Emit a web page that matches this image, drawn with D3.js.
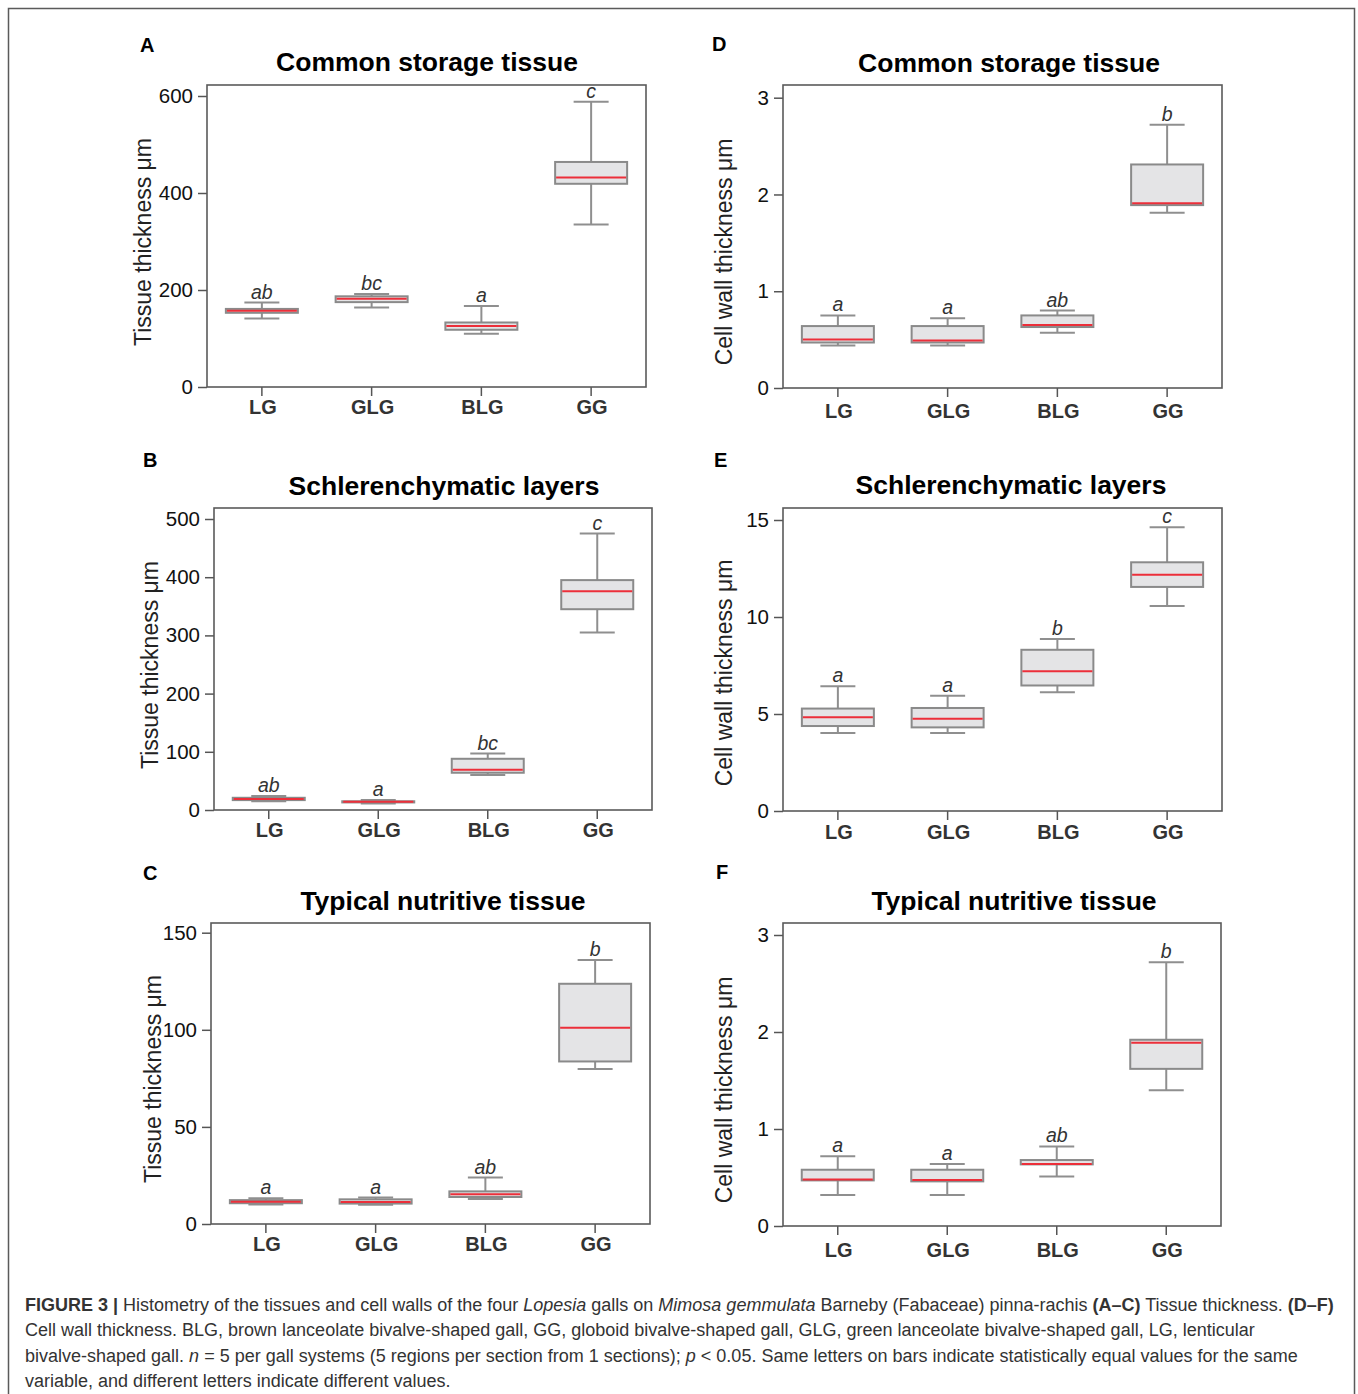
<!DOCTYPE html>
<html><head><meta charset="utf-8">
<script src="https://cdn.jsdelivr.net/npm/d3@7"></script>
<style>
body{margin:0;background:#fff}
svg{display:block;font-family:"Liberation Sans",Arial,Helvetica,sans-serif}
</style>
</head><body>
<svg id="fig" width="1358" height="1394"></svg>
<script>
// ---------------- data ----------------
const categories = ["LG", "GLG", "BLG", "GG"];
const panelIds = ["A", "B", "C", "D", "E", "F"];
const panelTitles = ["Common storage tissue", "Schlerenchymatic layers", "Typical nutritive tissue",
                     "Common storage tissue", "Schlerenchymatic layers", "Typical nutritive tissue"];
const yAxisLabels = ["Tissue thickness μm", "Tissue thickness μm", "Tissue thickness μm",
                     "Cell wall thickness μm", "Cell wall thickness μm", "Cell wall thickness μm"];
const yTicksA = [0, 200, 400, 600];
const yTicksB = [0, 100, 200, 300, 400, 500];
const yTicksC = [0, 50, 100, 150];
const yTicksD = [0, 1, 2, 3];
const yTicksE = [0, 5, 10, 15];
const yTicksF = [0, 1, 2, 3];
// five-number summaries per category: [min, q1, median, q3, max]
const statsA = [[141, 153, 157, 161, 174], [164, 175, 182, 187, 192], [110, 118, 126, 133, 167], [335, 419, 432, 464, 588]];
const statsB = [[15, 17, 19, 21, 24], [11, 13, 14, 15, 17], [60, 64, 69, 88, 97], [305, 345, 376, 395, 475]];
const statsC = [[10.1, 10.7, 11.5, 12.3, 13.2], [9.9, 10.5, 11.3, 12.7, 13.6], [12.9, 13.9, 15.3, 16.8, 23.9], [79.8, 83.7, 101.1, 123.7, 135.9]];
const statsD = [[0.44, 0.47, 0.50, 0.64, 0.75], [0.44, 0.47, 0.49, 0.64, 0.72], [0.57, 0.63, 0.65, 0.75, 0.80], [1.81, 1.89, 1.91, 2.31, 2.72]];
const statsE = [[4.02, 4.38, 4.83, 5.28, 6.43], [4.02, 4.31, 4.76, 5.31, 5.94], [6.12, 6.47, 7.20, 8.31, 8.87], [10.57, 11.55, 12.18, 12.82, 14.62]];
const statsF = [[0.32, 0.47, 0.48, 0.58, 0.72], [0.32, 0.46, 0.475, 0.58, 0.64], [0.51, 0.635, 0.64, 0.68, 0.82], [1.40, 1.62, 1.89, 1.92, 2.72]];
const lettersA = ["ab", "bc", "a", "c"];
const lettersB = ["ab", "a", "bc", "c"];
const lettersC = ["a", "a", "ab", "b"];
const lettersD = ["a", "a", "ab", "b"];
const lettersE = ["a", "a", "b", "c"];
const lettersF = ["a", "a", "ab", "b"];

// ---------------- layout ----------------
const layout = [
  {ticks: yTicksA, stats: statsA, letters: lettersA, left: 207, right: 646, top: 85, bottom: 387, yMaxPos: 96,
   tagX: 140, tagY: 52, titleX: 427, titleY: 71, ylabX: 151, ylabY: 242, xlabOff: 27},
  {ticks: yTicksB, stats: statsB, letters: lettersB, left: 214, right: 652, top: 508, bottom: 810, yMaxPos: 519,
   tagX: 143, tagY: 467, titleX: 444, titleY: 495, ylabX: 158, ylabY: 665, xlabOff: 27},
  {ticks: yTicksC, stats: statsC, letters: lettersC, left: 211, right: 650, top: 923, bottom: 1224, yMaxPos: 932.7,
   tagX: 143, tagY: 880, titleX: 443, titleY: 910, ylabX: 161, ylabY: 1079, xlabOff: 27},
  {ticks: yTicksD, stats: statsD, letters: lettersD, left: 783, right: 1222, top: 85, bottom: 388, yMaxPos: 97.7,
   tagX: 712, tagY: 51, titleX: 1009, titleY: 72, ylabX: 732, ylabY: 252, xlabOff: 30},
  {ticks: yTicksE, stats: statsE, letters: lettersE, left: 783, right: 1222, top: 508, bottom: 811, yMaxPos: 520,
   tagX: 714, tagY: 467, titleX: 1011, titleY: 494, ylabX: 732, ylabY: 673, xlabOff: 28},
  {ticks: yTicksF, stats: statsF, letters: lettersF, left: 783, right: 1221, top: 923, bottom: 1226, yMaxPos: 935,
   tagX: 716, tagY: 879, titleX: 1014, titleY: 910, ylabX: 732, ylabY: 1090, xlabOff: 31}
];

const svg = d3.select("#fig");
svg.append("rect").attr("width", 1358).attr("height", 1394).attr("fill", "#fff");
// outer figure frame
svg.append("path").attr("d", "M8.5,1400 V8.5 H1354.5 V1400")
  .attr("fill", "none").attr("stroke", "#5a5a5a").attr("stroke-width", 1.5);

const BOX_W = 72, CAP_W = 35;

layout.forEach((cfg, i) => {
  const g = svg.append("g");
  const x = d3.scaleBand().domain(categories).range([cfg.left, cfg.right]);
  const y = d3.scaleLinear().domain([0, d3.max(cfg.ticks)]).range([cfg.bottom, cfg.yMaxPos]);
  const cx = c => x(c) + x.bandwidth() / 2;

  // panel tag
  g.append("text").attr("x", cfg.tagX).attr("y", cfg.tagY)
    .attr("font-size", 20).attr("font-weight", "bold").attr("fill", "#000").text(panelIds[i]);
  // title
  g.append("text").attr("x", cfg.titleX).attr("y", cfg.titleY).attr("text-anchor", "middle")
    .attr("font-size", 26.5).attr("font-weight", "bold").attr("fill", "#000").text(panelTitles[i]);
  // y label
  g.append("text").attr("transform", `translate(${cfg.ylabX},${cfg.ylabY}) rotate(-90)`)
    .attr("text-anchor", "middle").attr("font-size", 23).attr("fill", "#222").text(yAxisLabels[i]);

  // y axis
  const ya = g.append("g").attr("transform", `translate(${cfg.left},0)`)
    .call(d3.axisLeft(y).tickValues(cfg.ticks).tickSize(9).tickPadding(5).tickFormat(d3.format("d")));
  ya.select(".domain").remove();
  ya.selectAll(".tick line").attr("stroke", "#555").attr("stroke-width", 1.5);
  ya.selectAll(".tick text").attr("font-size", 20.5).attr("fill", "#111").attr("font-family", null);

  // x axis
  const xa = g.append("g").attr("transform", `translate(0,${cfg.bottom})`)
    .call(d3.axisBottom(x).tickSize(9));
  xa.select(".domain").remove();
  xa.selectAll(".tick line").attr("stroke", "#555").attr("stroke-width", 1.5);
  xa.selectAll(".tick text").attr("font-size", 20).attr("font-weight", "bold").attr("fill", "#333")
    .attr("font-family", null).attr("y", cfg.xlabOff).attr("dy", 0).attr("dx", 1);

  // frame
  g.append("rect").attr("x", cfg.left).attr("y", cfg.top)
    .attr("width", cfg.right - cfg.left).attr("height", cfg.bottom - cfg.top)
    .attr("fill", "none").attr("stroke", "#5a5a5a").attr("stroke-width", 1.6);

  // boxes
  const bx = g.selectAll("g.box").data(cfg.stats).join("g").attr("class", "box");
  bx.each(function(d, j) {
    const s = d3.select(this);
    const c = cx(categories[j]);
    const [mn, q1, md, q3, mx] = d;
    // whiskers
    s.append("line").attr("x1", c).attr("x2", c).attr("y1", y(mx)).attr("y2", y(q3))
      .attr("stroke", "#8f8f8f").attr("stroke-width", 2);
    s.append("line").attr("x1", c).attr("x2", c).attr("y1", y(q1)).attr("y2", y(mn))
      .attr("stroke", "#8f8f8f").attr("stroke-width", 2);
    // caps
    [mn, mx].forEach(v => s.append("line").attr("x1", c - CAP_W / 2).attr("x2", c + CAP_W / 2)
      .attr("y1", y(v)).attr("y2", y(v)).attr("stroke", "#8f8f8f").attr("stroke-width", 2));
    // box
    s.append("rect").attr("x", c - BOX_W / 2).attr("y", y(q3)).attr("width", BOX_W)
      .attr("height", Math.max(0.5, y(q1) - y(q3)))
      .attr("fill", "#e4e4e6").attr("stroke", "#8a8a8a").attr("stroke-width", 2);
    // median
    s.append("line").attr("x1", c - BOX_W / 2 + 1).attr("x2", c + BOX_W / 2 - 1)
      .attr("y1", y(md)).attr("y2", y(md)).attr("stroke", "#ec2f3a").attr("stroke-width", 2);
    // significance letter
    s.append("text").attr("x", c).attr("y", y(mx) - 4).attr("text-anchor", "middle")
      .attr("font-size", 19.5).attr("font-style", "italic").attr("fill", "#333").text(cfg.letters[j]);
  });
});

// caption
const capLines = [
  [["FIGURE 3 |", "b"], [" Histometry of the tissues and cell walls of the four ", ""], ["Lopesia", "i"], [" galls on ", ""],
   ["Mimosa gemmulata", "i"], [" Barneby (Fabaceae) pinna-rachis ", ""], ["(A–C)", "b"], [" Tissue thickness. ", ""], ["(D–F)", "b"]],
  [["Cell wall thickness. BLG, brown lanceolate bivalve-shaped gall, GG, globoid bivalve-shaped gall, GLG, green lanceolate bivalve-shaped gall, LG, lenticular", ""]],
  [["bivalve-shaped gall. ", ""], ["n", "i"], [" = 5 per gall systems (5 regions per section from 1 sections); ", ""], ["p", "i"],
   [" < 0.05. Same letters on bars indicate statistically equal values for the same", ""]],
  [["variable, and different letters indicate different values.", ""]]
];
const capY = [1311, 1336, 1362, 1387];
capLines.forEach((ln, k) => {
  const t = svg.append("text").attr("x", 25).attr("y", capY[k]).attr("font-size", 18).attr("fill", "#333")
    .attr("xml:space", "preserve").style("white-space", "pre");
  ln.forEach(([s, f]) => {
    const ts = t.append("tspan").text(s);
    if (f === "b") ts.attr("font-weight", "bold");
    if (f === "i") ts.attr("font-style", "italic");
  });
});
</script>
</body></html>
